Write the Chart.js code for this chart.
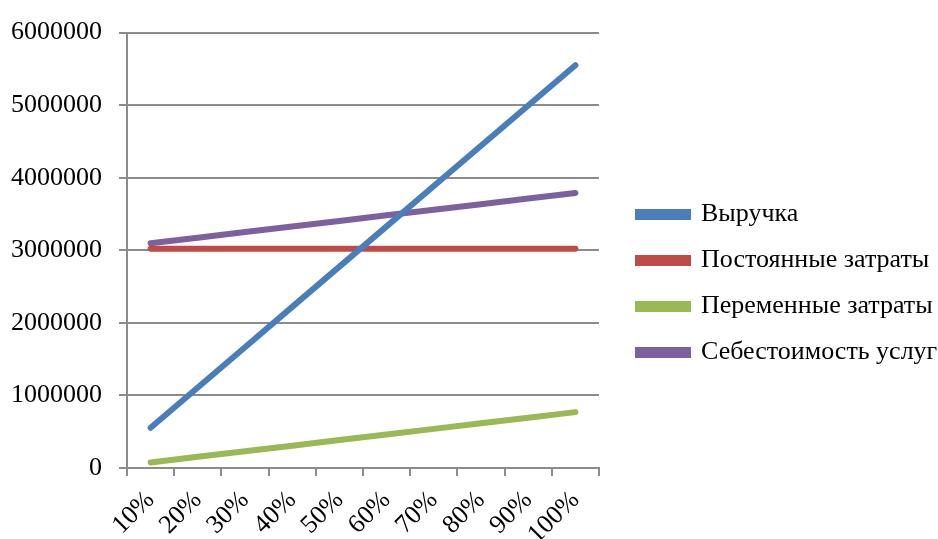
<!DOCTYPE html>
<html>
<head>
<meta charset="utf-8">
<script src="https://cdn.jsdelivr.net/npm/chart.js@4"></script>
<style>
  html, body { margin: 0; padding: 0; background: #fff; }
  #wrap { width: 938px; height: 539px; }
</style>
</head>
<body>
<div id="wrap"><canvas id="chart"></canvas></div>
<script>
const categories = ['10%', '20%', '30%', '40%', '50%', '60%', '70%', '80%', '90%', '100%'];
const revenue = [555000, 1110000, 1665000, 2220000, 2775000, 3330000, 3885000, 4440000, 4995000, 5550000];
const fixedCosts = [3020000, 3020000, 3020000, 3020000, 3020000, 3020000, 3020000, 3020000, 3020000, 3020000];
const variableCosts = [77000, 154000, 231000, 308000, 385000, 462000, 539000, 616000, 693000, 770000];
const costPrice = [3097000, 3174000, 3251000, 3328000, 3405000, 3482000, 3559000, 3636000, 3713000, 3790000];
const yTicks = [0, 1000000, 2000000, 3000000, 4000000, 5000000, 6000000];

const seriesNames = ['Выручка', 'Постоянные затраты', 'Переменные затраты', 'Себестоимость услуг'];
const seriesColors = ['#4A7EBB', '#BE4B48', '#98B954', '#7D60A0'];
const seriesData = [revenue, fixedCosts, variableCosts, costPrice];

const font = 'Liberation Serif';
const gridColor = '#8c8c8c';

// the layout caps the legend at a quarter of the width, so widen it back
const wideLegend = {
    id: 'wideLegend',
    afterInit(chart) {
        const legend = chart.legend;
        const fit = legend.fit;
        legend.fit = function () {
            fit.call(this);
            this.width = 320;
        };
    },
};

const ctx = document.getElementById('chart').getContext('2d');
new Chart(ctx, {
    type: 'line',
    data: {
        labels: categories,
        datasets: seriesNames.map((name, i) => ({
            label: name,
            data: seriesData[i],
            borderColor: seriesColors[i],
            backgroundColor: seriesColors[i],
            borderWidth: 6,
            borderCapStyle: 'round',
            pointRadius: 0,
            tension: 0,
        })),
    },
    plugins: [wideLegend],
    options: {
        responsive: true,
        maintainAspectRatio: false,
        animation: false,
        layout: { padding: { top: 28, right: 0, bottom: 0, left: 0 } },
        plugins: {
            tooltip: { enabled: false },
            legend: {
                position: 'right',
                labels: {
                    boxWidth: 50,
                    boxHeight: 5,
                    padding: 20,
                    color: '#000',
                    font: { family: font, size: 26 },
                },
            },
        },
        scales: {
            x: {
                offset: true,
                grid: {
                    offset: true,
                    drawOnChartArea: false,
                    drawTicks: true,
                    tickLength: 8,
                    color: gridColor,
                    lineWidth: 2,
                },
                border: { color: gridColor, width: 2 },
                ticks: {
                    color: '#000',
                    font: { family: font, size: 26 },
                    autoSkip: false,
                    minRotation: 45,
                    maxRotation: 45,
                    padding: 9,
                },
                afterFit: s => { s.height = 71; },
            },
            y: {
                min: 0,
                max: 6000000,
                afterBuildTicks: s => { s.ticks = yTicks.map(v => ({ value: v })); },
                grid: { color: gridColor, lineWidth: 2, tickLength: 8 },
                border: { color: gridColor, width: 2 },
                ticks: {
                    color: '#000',
                    padding: 17,
                    font: { family: font, size: 26 },
                    callback: v => String(v),
                },
                afterFit: s => { s.width = 127; },
            },
            gap: {
                position: 'right',
                display: true,
                grid: { display: false },
                border: { display: false },
                ticks: { display: false },
                afterFit: s => { s.width = 19; },
            },
        },
    },
});
</script>
</body>
</html>
